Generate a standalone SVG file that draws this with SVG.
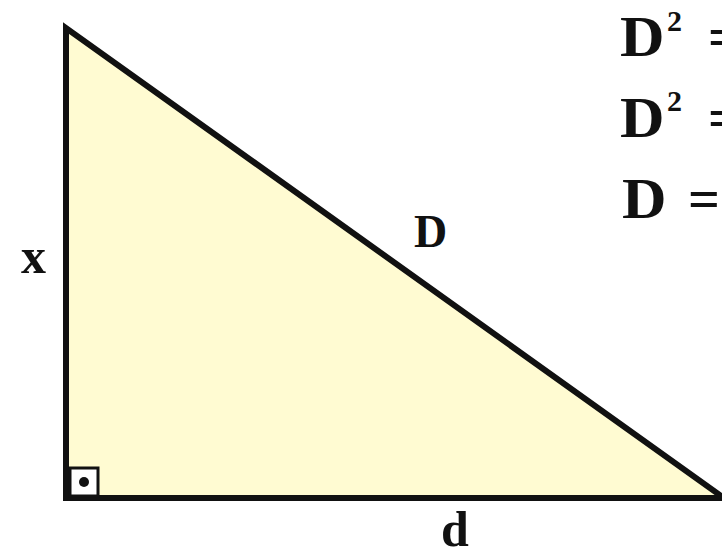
<svg xmlns="http://www.w3.org/2000/svg" width="722" height="549" viewBox="0 0 722 549">
<style>
.t{font-family:"Liberation Serif","Times New Roman",serif;fill:#111;font-weight:bold}
</style>
<rect width="722" height="549" fill="#fff"/>
<g id="triangle">
<polygon points="66,28 66,498 724,498" fill="#FFFBD2" stroke="#111" stroke-width="6" stroke-linejoin="miter"/>
<rect x="70" y="468" width="28" height="28" fill="#fff" stroke="#111" stroke-width="3"/>
<circle cx="84" cy="482" r="5" fill="#111"/>
</g>
<g id="labels">
<text class="t" x="21" y="273" font-size="50" font-weight="normal">x</text>
<text class="t" x="414" y="247" font-size="46" font-weight="normal">D</text>
<text class="t" x="441" y="546" font-size="50" font-weight="normal">d</text>
</g>
<g id="formulas">
<text class="t" x="620" y="56" font-size="56" transform="translate(-62 0) scale(1.1 1)">D</text>
<text class="t" x="667" y="31" font-size="30" font-weight="normal">2</text>
<text class="t" x="708" y="56" font-size="56">=</text>
<text class="t" x="620" y="137" font-size="56" transform="translate(-62 0) scale(1.1 1)">D</text>
<text class="t" x="667" y="111" font-size="30" font-weight="normal">2</text>
<text class="t" x="708" y="137" font-size="56">=</text>
<text class="t" x="622" y="218" font-size="56" transform="translate(-62.2 0) scale(1.1 1)">D</text>
<text class="t" x="688" y="218" font-size="56">=</text>
</g>
</svg>
